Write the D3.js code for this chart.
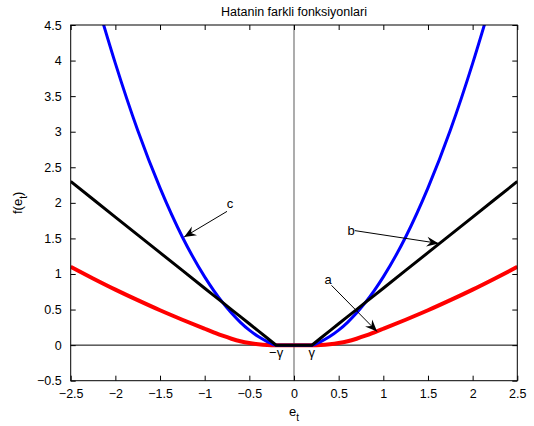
<!DOCTYPE html>
<html>
<head>
<meta charset="utf-8">
<script src="https://cdn.jsdelivr.net/npm/d3@7"></script>
<style>
body{margin:0;background:#fff;}
text{font-family:"Liberation Sans",Arial,sans-serif;fill:#000;}
</style>
</head>
<body>
<div id="chart"></div>
<script>
//data
var eGrid=[-2.5,-2.25,-2,-1.75,-1.5,-1.25,-1,-0.9,-0.8,-0.7,-0.6,-0.5,-0.4,-0.3,-0.2,0,0.2,0.3,0.4,0.5,0.6,0.7,0.8,0.9,1,1.25,1.5,1.75,2,2.25,2.5];
var redVals=[1.1,0.937,0.78,0.632,0.49,0.357,0.23,0.18,0.132,0.09,0.055,0.03,0.013,0.003,0,0,0,0.003,0.013,0.03,0.055,0.09,0.132,0.18,0.23,0.357,0.49,0.632,0.78,0.937,1.1];
var blackVals=[2.3,2.05,1.8,1.55,1.3,1.05,0.8,0.7,0.6,0.5,0.4,0.3,0.2,0.1,0,0,0,0.1,0.2,0.3,0.4,0.5,0.6,0.7,0.8,1.05,1.3,1.55,1.8,2.05,2.3];
var blueE=[-2.15,-2,-1.75,-1.5,-1.25,-1,-0.9,-0.8,-0.7,-0.6,-0.5,-0.4,-0.3,-0.2,0,0.2,0.3,0.4,0.5,0.6,0.7,0.8,0.9,1,1.25,1.5,1.75,2,2.15];
var blueVals=[4.58,3.96,3.02,2.21,1.52,0.96,0.77,0.6,0.45,0.32,0.21,0.12,0.05,0,0,0,0.05,0.12,0.21,0.32,0.45,0.6,0.77,0.96,1.52,2.21,3.02,3.96,4.58];
var xTicks=[-2.5,-2,-1.5,-1,-0.5,0,0.5,1,1.5,2,2.5];
var yTicks=[-0.5,0,0.5,1,1.5,2,2.5,3,3.5,4,4.5];
var gamma=0.2;
//annotations: label, text position, arrow start, arrow tip (data units)
var notes=[
  {label:"a",tx:328,ty:284,from:[0.42,0.84],to:[0.93,0.19]},
  {label:"b",tx:351,ty:235,from:[0.68,1.61],to:[1.62,1.43]},
  {label:"c",tx:230,ty:208,from:[-0.75,1.88],to:[-1.23,1.52]}
];

//setup the margins
var W=534,H=426;
var margin={top:25,right:16.7,bottom:45.3,left:70.7},
    width=W-margin.left-margin.right,
    height=H-margin.top-margin.bottom;

var svg=d3.select("#chart").append("svg")
          .attr("width",W)
          .attr("height",H);

var g=svg.append("g")
         .attr("transform","translate("+margin.left+","+margin.top+")");

var xScale=d3.scaleLinear().domain([-2.5,2.5]).range([0,width]);
var yScale=d3.scaleLinear().domain([-0.5,4.5]).range([height,0]);

svg.append("defs").append("clipPath").attr("id","clip")
   .append("rect").attr("width",width).attr("height",height);

//zero lines
g.append("line")
 .attr("x1",xScale(0)).attr("x2",xScale(0))
 .attr("y1",0).attr("y2",height)
 .style("stroke","#808080").style("stroke-width",1.3);
g.append("line")
 .attr("x1",0).attr("x2",width)
 .attr("y1",yScale(0)).attr("y2",yScale(0))
 .style("stroke","#000").style("stroke-width",1);

//curves
var plot=g.append("g").attr("clip-path","url(#clip)");
var smooth=d3.line().x(function(d){return xScale(d[0])}).y(function(d){return yScale(d[1])}).curve(d3.curveMonotoneX);
var straight=d3.line().x(function(d){return xScale(d[0])}).y(function(d){return yScale(d[1])});

plot.append("path")
    .datum(eGrid.map(function(e,i){return [e,redVals[i]]}))
    .attr("d",smooth)
    .style("fill","none").style("stroke","#ff0000").style("stroke-width",4);
plot.append("path")
    .datum(blueE.map(function(e,i){return [e,blueVals[i]]}))
    .attr("d",smooth)
    .style("fill","none").style("stroke","#0000ff").style("stroke-width",3);
plot.append("path")
    .datum(eGrid.map(function(e,i){return [e,blackVals[i]]}))
    .attr("d",straight)
    .style("fill","none").style("stroke","#000").style("stroke-width",3);

//axes box, ticks inward on all sides
var tl=5;
g.append("rect").attr("width",width).attr("height",height)
 .style("fill","none").style("stroke","#000").style("stroke-width",1);
var xAxis=g.append("g").attr("transform","translate(0,"+height+")")
           .call(d3.axisBottom(xScale).tickValues(xTicks).tickSize(-tl).tickPadding(tl+3).tickFormat(d3.format("")));
var xTop=g.append("g").call(d3.axisTop(xScale).tickValues(xTicks).tickSize(-tl).tickFormat(""));
var yAxis=g.append("g").call(d3.axisLeft(yScale).tickValues(yTicks).tickSize(-tl).tickPadding(tl+4).tickFormat(d3.format("")));
var yRight=g.append("g").attr("transform","translate("+width+",0)")
            .call(d3.axisRight(yScale).tickValues(yTicks).tickSize(-tl).tickFormat(""));
g.selectAll(".domain").remove();
g.selectAll(".tick line").style("stroke","#000");
g.selectAll(".tick text").style("font-size","12.5px").style("font-family","'Liberation Sans',Arial,sans-serif");

//gamma labels
g.append("text").attr("x",xScale(-gamma)).attr("y",yScale(0)+12)
 .attr("text-anchor","middle").style("font-size","13px").text("\u2212\u03b3");
g.append("text").attr("x",xScale(gamma)).attr("y",yScale(0)+12)
 .attr("text-anchor","middle").style("font-size","13px").text("\u03b3");

//annotation arrows
function arrowHead(x0,y0,x1,y1){
  var a=Math.atan2(y1-y0,x1-x0),L=12,w=5,n=8;
  var c=Math.cos(a),s=Math.sin(a);
  var p1=[x1-L*c+w*s,y1-L*s-w*c],p2=[x1-L*c-w*s,y1-L*s+w*c],pn=[x1-n*c,y1-n*s];
  return "M"+x1+","+y1+"L"+p1+"L"+pn+"L"+p2+"Z";
}
notes.forEach(function(d){
  var x0=xScale(d.from[0]),y0=yScale(d.from[1]),x1=xScale(d.to[0]),y1=yScale(d.to[1]);
  g.append("line").attr("x1",x0).attr("y1",y0).attr("x2",x1).attr("y2",y1)
   .style("stroke","#000").style("stroke-width",1);
  g.append("path").attr("d",arrowHead(x0,y0,x1,y1)).style("fill","#000");
  svg.append("text").attr("x",d.tx).attr("y",d.ty).attr("text-anchor","middle")
     .style("font-size","13px").text(d.label);
});

//title and labels
svg.append("text").attr("x",margin.left+width/2).attr("y",16)
   .attr("text-anchor","middle").style("font-size","12.5px").text("Hatanin farkli fonksiyonlari");
var xl=svg.append("text").attr("x",margin.left+width/2).attr("y",416)
   .attr("text-anchor","middle").style("font-size","13px");
xl.append("tspan").text("e");
xl.append("tspan").attr("dy",5).style("font-size","10px").text("t");
var yl=svg.append("text").attr("transform","translate(22,"+(margin.top+height/2)+") rotate(-90)")
   .attr("text-anchor","middle").style("font-size","13px");
yl.append("tspan").text("f(e");
yl.append("tspan").attr("dy",5).style("font-size","10px").text("t");
yl.append("tspan").attr("dy",-5).text(")");
</script>
</body>
</html>
